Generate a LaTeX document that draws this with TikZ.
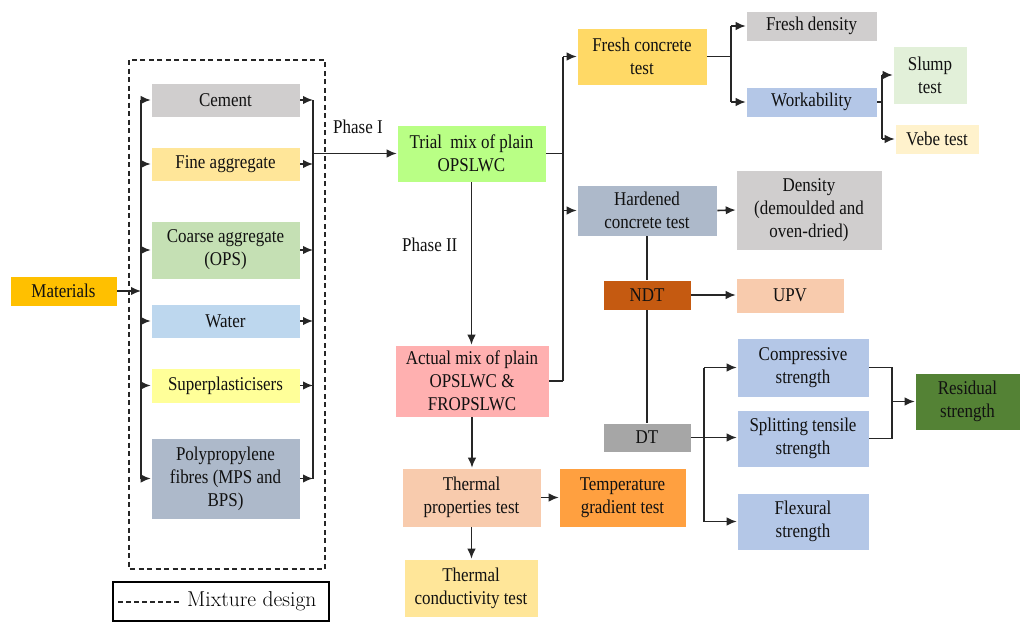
\documentclass[tikz,border=0pt]{standalone}
\usepackage{fontspec}
\setmainfont{Liberation Serif}[FakeStretch=0.87]
\newfontfamily\legfont{Latin Modern Roman}
\usetikzlibrary{arrows.meta}
\definecolor{cgray}{HTML}{D0CECE}
\definecolor{cfine}{HTML}{FFE699}
\definecolor{ccoarse}{HTML}{C5E0B4}
\definecolor{cwater}{HTML}{BDD7EE}
\definecolor{csuper}{HTML}{FFFF99}
\definecolor{cpoly}{HTML}{ADB9CA}
\definecolor{cmat}{HTML}{FFC000}
\definecolor{ctrial}{HTML}{B9FF85}
\definecolor{cactual}{HTML}{FFB0B0}
\definecolor{cfresh}{HTML}{FFD966}
\definecolor{cwork}{HTML}{B4C7E7}
\definecolor{cslump}{HTML}{E2F0D9}
\definecolor{cvebe}{HTML}{FFF2CC}
\definecolor{cndt}{HTML}{C55A11}
\definecolor{cupv}{HTML}{F8CBAD}
\definecolor{cdt}{HTML}{A6A6A6}
\definecolor{cresid}{HTML}{548235}
\definecolor{ctemp}{HTML}{FFA040}
\definecolor{ctext}{HTML}{111111}
\tikzset{
  box/.style={draw=white, line width=0.6pt, inner sep=0pt, align=center, text=ctext,
    font=\fontsize{19.5}{23}\selectfont},
  ln/.style={line width=1.6pt, draw=black!85},
  arr/.style={ln, -{Latex[length=10pt,width=8.5pt]}},
  lbl/.style={inner sep=0pt, text=ctext, font=\fontsize{19.5}{20}\selectfont},
}
\begin{document}
\begin{tikzpicture}[x=1pt,y=-1pt]
\useasboundingbox (0,0) rectangle (1020,622);
% dashed group
\draw[line width=1.4pt, dash pattern=on 5pt off 3.5pt, black!85] (129,60) rectangle (325,569);
% nodes
\node[box, fill=cmat, minimum width=107pt, minimum height=30pt] (mat) at (63.5,291) {Materials};
\node[box, fill=cgray, minimum width=149pt, minimum height=34pt] (cem) at (225.5,100) {Cement};
\node[box, fill=cfine, minimum width=149pt, minimum height=34pt] (fine) at (225.5,164) {Fine aggregate};
\node[box, fill=ccoarse, minimum width=149pt, minimum height=58pt] (coarse) at (225.5,250) {Coarse aggregate\\(OPS)};
\node[box, fill=cwater, minimum width=149pt, minimum height=34pt] (water) at (225.5,321) {Water};
\node[box, fill=csuper, minimum width=149pt, minimum height=35pt] (super) at (225.5,385.5) {Superplasticisers};
\node[box, fill=cpoly, minimum width=149pt, minimum height=81pt] (poly) at (225.5,478.5) {Polypropylene\\fibres (MPS and\\BPS)};
\node[box, fill=ctrial, minimum width=149pt, minimum height=57pt] (trial) at (471.5,153.5) {Trial\ \ mix of plain\\OPSLWC};
\node[box, fill=cactual, minimum width=154pt, minimum height=72pt] (actual) at (472,381) {Actual mix of plain\\OPSLWC \&\\FROPSLWC};
\node[box, fill=cfresh, minimum width=130pt, minimum height=57pt] (fresh) at (642,56.5) {Fresh concrete\\test};
\node[box, fill=cpoly, minimum width=140pt, minimum height=51pt] (hard) at (647,210.5) {Hardened\\concrete test};
\node[box, fill=cgray, minimum width=131pt, minimum height=30pt] (fdens) at (811.5,26) {Fresh density};
\node[box, fill=cwork, minimum width=131pt, minimum height=30pt] (work) at (811.5,102) {Workability};
\node[box, fill=cslump, minimum width=74pt, minimum height=58pt] (slump) at (930,75) {Slump\\test};
\node[box, fill=cvebe, minimum width=84pt, minimum height=30pt] (vebe) at (937,139) {Vebe test};
\node[box, fill=cgray, minimum width=146pt, minimum height=80pt] (dens) at (809,210) {Density\\(demoulded and\\oven-dried)};
\node[box, fill=cndt, minimum width=88pt, minimum height=30pt] (ndt) at (647,295) {NDT};
\node[box, fill=cupv, minimum width=108pt, minimum height=35pt] (upv) at (790,295.5) {UPV};
\node[box, fill=cdt, minimum width=88pt, minimum height=29pt] (dt) at (647,437.5) {DT};
\node[box, fill=cwork, minimum width=132pt, minimum height=59pt] (comp) at (803,367.5) {Compressive\\strength};
\node[box, fill=cwork, minimum width=132pt, minimum height=57pt] (split) at (803,438.5) {Splitting tensile\\strength};
\node[box, fill=cwork, minimum width=132pt, minimum height=57pt] (flex) at (803,521.5) {Flexural\\strength};
\node[box, fill=cresid, minimum width=105pt, minimum height=57pt] (resid) at (967.5,401.5) {Residual\\strength};
\node[box, fill=cupv, minimum width=139pt, minimum height=59pt] (therm) at (471.5,497.5) {Thermal\\properties test};
\node[box, fill=ctemp, minimum width=127pt, minimum height=59pt] (temp) at (622.5,497.5) {Temperature\\gradient test};
\node[box, fill=cfine, minimum width=134pt, minimum height=58pt] (cond) at (471,588) {Thermal\\conductivity test};
% labels
\node[lbl, anchor=west] (ph1) at (333,127) {Phase I};
\node[lbl, anchor=west] (ph2) at (402,245) {Phase II};
% left bus
\coordinate (L) at (141,0);
\coordinate (R) at (313,0);
\draw[arr] (mat.east) -- (mat.east -| L);
\draw[ln] (L |- cem) -- (L |- poly);
\foreach \n in {cem,fine,coarse,water,super,poly}{
  \draw[arr] (L |- \n) -- (\n.west);
  \draw[arr] (\n.east) -- (R |- \n);
}
\draw[ln] (R |- cem) -- (R |- poly);
\draw[arr] (R |- trial) -- (trial.west);
\draw[arr] (trial.south) -- (trial.south |- actual.north);
% to tests
\coordinate (M) at (563,0);
\draw[ln] (trial.east) -- (M |- trial);
\draw[ln] (actual.east) -- (M |- actual);
\draw[ln] (M |- fresh) -- (M |- actual);
\draw[arr] (M |- fresh) -- (fresh.west);
\draw[arr] (M |- hard) -- (hard.west);
% fresh branch
\coordinate (F) at (731,0);
\draw[ln] (fresh.east) -- (F |- fresh);
\draw[ln] (F |- fdens) -- (F |- work);
\draw[arr] (F |- fdens) -- (fdens.west);
\draw[arr] (F |- work) -- (work.west);
\coordinate (W) at (882,0);
\draw[ln] (work.east) -- (W |- work);
\draw[ln] (W |- slump) -- (W |- vebe);
\draw[arr] (W |- slump) -- (slump.west);
\draw[arr] (W |- vebe) -- (vebe.west);
% hardened
\draw[arr] (hard.east) -- (dens.west);
\draw[ln] (hard.south) -- (ndt.north);
\draw[ln] (ndt.south) -- (dt.north);
\draw[arr] (ndt.east) -- (ndt.east -| upv.west);
\coordinate (D) at (704,0);
\draw[arr] (dt.east) -- (dt.east -| split.west);
\draw[ln] (D |- comp) -- (D |- flex);
\draw[arr] (D |- comp) -- (comp.west);
\draw[arr] (D |- flex) -- (flex.west);
\coordinate (S) at (892,0);
\draw[ln] (comp.east) -- (S |- comp) -- (S |- split) -- (split.east);
\draw[arr] (S |- resid) -- (resid.west);
% thermal
\draw[arr] (actual.south) -- (actual.south |- therm.north);
\draw[arr] (therm.east) -- (temp.west);
\draw[arr] (therm.south) -- (therm.south |- cond.north);
% legend
\draw[line width=2.2pt, black] (113,582) rectangle (329,621);
\coordinate (lg1) at (118,602);
\coordinate (lg2) at (180,602);
\draw[line width=1.1pt, dash pattern=on 5pt off 3pt, black!85] (lg1) -- (lg2);
\node[inner sep=0pt, anchor=west, font=\legfont\fontsize{21.5}{24}\selectfont] (leg) at (187,601) {Mixture design};
\end{tikzpicture}
\end{document}
